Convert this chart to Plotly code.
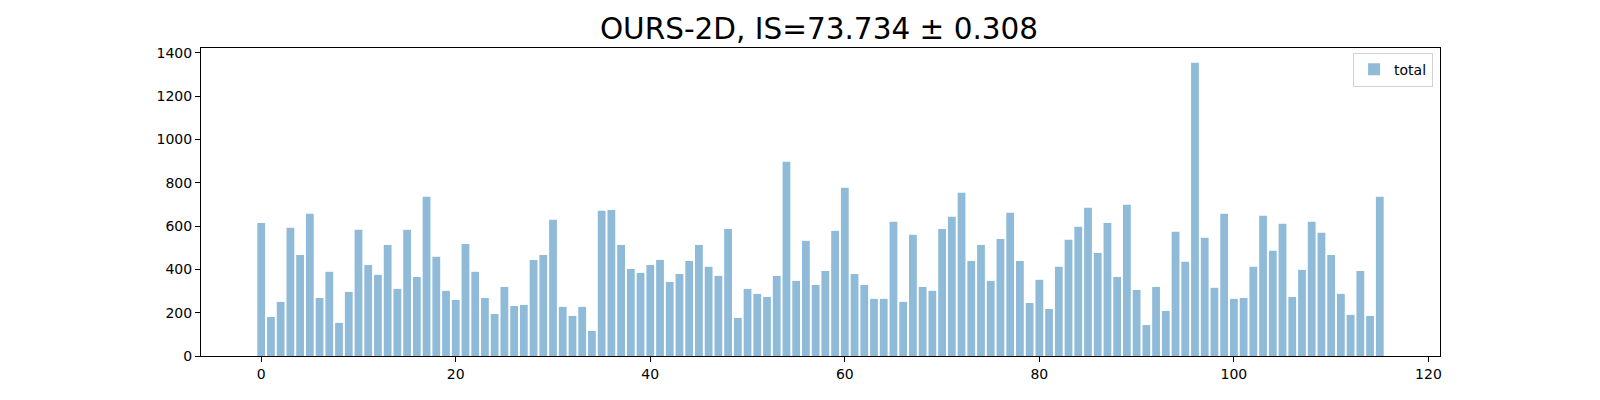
"""
Per-class sample counts for OURS-2D, bar chart
"""

import plotly.graph_objects as go

# class index -> number of samples
class_ids = list(range(116))
totals = [
    615, 180, 250, 592, 467, 657, 268, 389, 153, 296,
    583, 421, 375, 513, 310, 583, 365, 736, 458, 301,
    259, 518, 389, 268, 194, 319, 231, 236, 444, 467,
    629, 227, 185, 227, 116, 671, 675, 513, 402, 384,
    421, 444, 342, 379, 439, 513, 412, 370, 587, 176,
    310, 287, 273, 370, 897, 347, 532, 328, 393, 578,
    777, 379, 328, 264, 264, 620, 250, 560, 319, 301,
    587, 643, 754, 439, 513, 347, 541, 662, 439, 245,
    352, 217, 412, 537, 597, 685, 476, 615, 365, 699,
    305, 143, 319, 208, 574, 435, 1355, 546, 315, 657,
    264, 268, 412, 648, 486, 611, 273, 398, 620, 569,
    467, 287, 190, 393, 185, 736,
]
x_ticks = [0, 20, 40, 60, 80, 100, 120]
y_ticks = [0, 200, 400, 600, 800, 1000, 1200, 1400]

title_text = 'OURS-2D, IS=73.734 ± 0.308'

fig = go.Figure()
fig.add_trace(go.Bar(
    x=class_ids,
    y=totals,
    name='total',
    marker=dict(color='rgba(31, 119, 180, 0.5)', line=dict(width=0)),
    showlegend=True
))

axis_style = dict(
    showline=True,
    linecolor='black',
    linewidth=1.1,
    mirror=True,
    ticks='outside',
    ticklen=5,
    tickwidth=1.1,
    tickcolor='black',
    showgrid=False,
    zeroline=False,
    tickfont=dict(family='DejaVu Sans', size=14, color='black'),
)

# the page body adds an 8px offset, so margins are shifted to compensate
fig.update_layout(
    width=1600,
    height=400,
    margin=dict(l=193, r=168, t=40, b=52),
    plot_bgcolor='white',
    paper_bgcolor='white',
    bargap=0.2,
    title=dict(
        text=title_text,
        x=811 / 1600,
        xanchor='center',
        y=1 - 30.5 / 400,
        yanchor='bottom',
        font=dict(family='DejaVu Sans', size=29.5, color='black'),
    ),
    legend=dict(
        x=0.9944,
        y=0.985,
        xanchor='right',
        yanchor='top',
        bgcolor='white',
        bordercolor='#d0d0d0',
        borderwidth=1,
        font=dict(family='DejaVu Sans', size=14, color='black'),
    ),
)
fig.update_xaxes(range=[-6.19, 121.19], tickvals=x_ticks, **axis_style)
fig.update_yaxes(range=[0, 1423], tickvals=y_ticks, **axis_style)

fig.write_html("out.html")
